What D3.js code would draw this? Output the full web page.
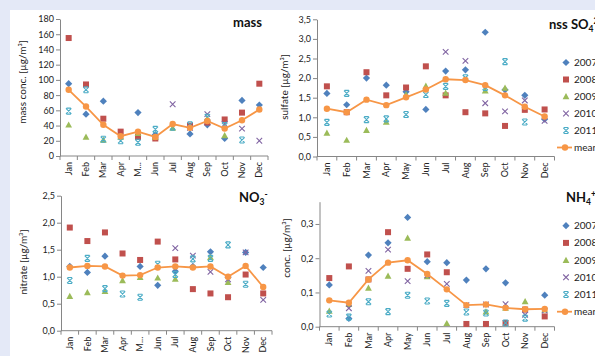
<!DOCTYPE html>
<html>
<head>
<meta charset="utf-8">
<script src="https://cdn.jsdelivr.net/npm/d3@7"></script>
<style>
  html, body { margin: 0; padding: 0; background: #e4e9f7; overflow: hidden; }
  svg { display: block; font-family: Lato, "Open Sans", sans-serif; }
</style>
</head>
<body>
<svg id="chart" width="595" height="356"></svg>
<script>
// categories
const months = ["Jan", "Feb", "Mar", "Apr", "May", "Jun", "Jul", "Aug", "Sep", "Oct", "Nov", "Dec"];
const monthsCut = ["Jan", "Feb", "Mar", "Apr", "M...", "Jun", "Jul", "Aug", "Sep", "Oct", "Nov", "Dec"];
const years = ["2007", "2008", "2009", "2010", "2011"];

// mass conc. [µg/m³]
const mass2007 = [95, 55, 72, null, 57, 28, null, 29, 41, 23, 73, 67];
const mass2008 = [155, 94, 49, 32, 25, 23, null, 40, 44, 48, 57, 95];
const mass2009 = [41, 25, 21, 25, 30, 25, 37, null, 49, 27, null, null];
const mass2010 = [null, null, null, null, null, null, 68, 37, 55, 42, 36, 20];
const mass2011 = [59, 87, 22, 20, 18, 35, 38, 41, 51, 40, 21, null];
const massMean = [87, 65, 41, 26, 32, 25, 42, 37, 46, 36, 47, 61];

// nss sulfate [µg/m³]
const so42007 = [1.61, 1.32, 2.00, 1.82, 1.65, 1.20, 2.18, 2.21, 3.17, 1.70, 1.56, 0.95];
const so42008 = [1.79, 1.13, 2.15, 1.56, 1.76, 2.30, 1.56, 1.13, 1.10, 0.78, 1.19, 1.20];
const so42009 = [0.60, 0.42, 0.67, 0.88, 1.58, 1.80, 1.62, null, 1.68, 1.75, null, null];
const so42010 = [null, null, null, null, null, null, 2.67, 2.44, 1.36, 1.15, 1.43, 0.91];
const so42011 = [0.87, 1.61, 0.94, 0.96, 1.07, 1.58, 1.79, 2.01, 1.76, 2.42, 0.88, null];
const so4Mean = [1.22, 1.13, 1.45, 1.31, 1.51, 1.71, 1.97, 1.95, 1.82, 1.56, 1.27, 1.02];

// nitrate [µg/m³]
const no32007 = [1.19, 1.08, 1.38, null, 1.19, 0.84, 1.10, 1.19, 1.46, 0.99, 1.45, 1.17];
const no32008 = [1.91, 1.66, 1.82, 1.43, 1.31, 1.65, 1.32, 0.77, 0.69, 0.62, 1.04, 0.69];
const no32009 = [0.64, 0.71, 0.73, 0.93, 0.99, 0.98, 0.96, null, 1.36, 0.90, null, null];
const no32010 = [null, null, null, null, null, null, 1.53, 1.39, 1.09, 0.95, 1.45, 0.57];
const no32011 = [0.93, 1.34, 0.78, 0.68, 0.62, 1.23, 1.04, 1.33, 1.34, 1.59, 0.86, null];
const no3Mean = [1.17, 1.20, 1.19, 1.02, 1.03, 1.17, 1.19, 1.17, 1.19, 1.00, 1.20, 0.81];

// ammonium conc. [µg/m³]
const nh42007 = [0.122, 0.024, 0.209, 0.245, 0.319, 0.190, 0.187, 0.136, 0.169, 0.128, null, 0.092];
const nh42008 = [0.142, 0.176, 0.138, 0.276, 0.169, 0.211, 0.159, 0.008, 0.008, 0.011, 0.050, 0.030];
const nh42009 = [0.046, 0.066, 0.113, 0.148, 0.259, 0.147, 0.010, null, 0.044, 0.055, 0.074, 0.050];
const nh42010 = [null, 0.054, 0.163, 0.225, 0.133, 0.150, 0.125, 0.063, 0.065, 0.066, 0.035, 0.047];
const nh42011 = [0.037, 0.028, 0.073, 0.044, 0.092, 0.075, 0.068, 0.043, 0.040, 0.011, 0.025, null];
const nh4Mean = [0.077, 0.070, 0.138, 0.187, 0.194, 0.154, 0.109, 0.063, 0.065, 0.055, 0.051, 0.052];

// tick values
const massTicks = [0, 20, 40, 60, 80, 100, 120, 140, 160, 180];
const so4Ticks = [0, 0.5, 1, 1.5, 2, 2.5, 3, 3.5];
const no3Ticks = [0, 0.5, 1, 1.5, 2, 2.5];
const nh4Ticks = [0, 0.1, 0.2, 0.3];

const yearColors = ["#4f81bd", "#c0504d", "#9bbb59", "#8064a2", "#4bacc6"];
const meanColor = "#f79646";
const axisColor = "#868686";

const svg = d3.select("#chart");
svg.append("rect")
  .attr("x", 10).attr("y", 10)
  .attr("width", 585).attr("height", 346)
  .attr("fill", "#fff");

// marker shapes, one per year
function marker(g, i, color) {
  if (i == 0) {
    g.append("path").attr("d", "M0,-3.6L3.6,0L0,3.6L-3.6,0Z").attr("fill", color);
  } else if (i == 1) {
    g.append("rect").attr("x", -3).attr("y", -3).attr("width", 6).attr("height", 6).attr("fill", color);
  } else if (i == 2) {
    g.append("path").attr("d", "M0,-3.4L3.4,2.8L-3.4,2.8Z").attr("fill", color);
  } else if (i == 3) {
    g.append("path").attr("d", "M-2.8,-2.8L2.8,2.8M-2.8,2.8L2.8,-2.8")
      .attr("stroke", color).attr("stroke-width", 1.1).attr("fill", "none");
  } else {
    g.append("path").attr("d", "M-2.7,-2.7L2.7,2.7M-2.7,2.7L2.7,-2.7M-2.2,-3L2.2,-3M-2.2,3L2.2,3")
      .attr("stroke", color).attr("stroke-width", 1.1).attr("fill", "none");
  }
}

function fmtComma(d) {
  return d3.format(".1f")(d).replace(".", ",");
}

function drawPanel(p) {
  var x = d3.scaleBand().domain(months).range([p.left, p.right]).padding(0);
  var y = d3.scaleLinear().domain([0, p.max]).range([p.bottom, p.top]);
  var g = svg.append("g");

  // y axis
  var yAxis = d3.axisLeft(y).tickValues(p.ticks).tickSize(4).tickSizeOuter(0).tickFormat(p.fmt);
  var ya = g.append("g").attr("transform", "translate(" + p.left + ",0)").call(yAxis);
  ya.select(".domain").attr("stroke", axisColor);
  ya.selectAll(".tick line").attr("stroke", axisColor);
  ya.selectAll(".tick text").attr("font-size", 9).attr("fill", "#222").attr("x", -6)
    .attr("font-family", "Lato, 'Open Sans', sans-serif");

  // x axis: line + ticks at category boundaries
  g.append("line").attr("x1", p.left).attr("x2", p.right)
    .attr("y1", p.bottom).attr("y2", p.bottom).attr("stroke", axisColor);
  var bounds = months.map(m => x(m)).concat([p.right]);
  g.selectAll(".xtick").data(bounds).enter().append("line")
    .attr("x1", d => d).attr("x2", d => d)
    .attr("y1", p.bottom).attr("y2", p.bottom + 4)
    .attr("stroke", axisColor);
  g.selectAll(".xlab").data(months).enter().append("text")
    .attr("transform", (d, i) => "translate(" + (x(d) + x.bandwidth() / 2) + "," + (p.bottom + 6) + ") rotate(-90)")
    .attr("text-anchor", "end").attr("dy", "0.35em")
    .attr("font-size", 9).attr("fill", "#222")
    .text((d, i) => p.labels[i]);

  // y title
  g.append("text")
    .attr("transform", "translate(" + p.ylabX + "," + p.ylabY + ") rotate(-90)")
    .attr("text-anchor", "middle").attr("dy", "0.35em")
    .attr("font-size", 10).attr("fill", "#222")
    .text(p.ylabel);

  // year series
  p.series.forEach(function (vals, i) {
    var pts = vals.map((v, j) => ({ m: months[j], v: v })).filter(d => d.v != null);
    g.selectAll(".s" + i).data(pts).enter().append("g")
      .attr("transform", d => "translate(" + (x(d.m) + x.bandwidth() / 2) + "," + y(d.v) + ")")
      .each(function () { marker(d3.select(this), i, yearColors[i]); });
  });

  // mean line
  var line = d3.line().x((d, j) => x(months[j]) + x.bandwidth() / 2).y(d => y(d));
  g.append("path").datum(p.mean).attr("d", line)
    .attr("fill", "none").attr("stroke", meanColor).attr("stroke-width", 1.8);
  g.selectAll(".mdot").data(p.mean).enter().append("circle")
    .attr("cx", (d, j) => x(months[j]) + x.bandwidth() / 2)
    .attr("cy", d => y(d)).attr("r", 3.2).attr("fill", meanColor);

  // title
  var t = g.append("text").attr("x", p.titleX).attr("y", p.titleY)
    .attr("text-anchor", p.titleAnchor).attr("font-size", 13).attr("font-weight", "bold").attr("fill", "#111");
  t.append("tspan").text(p.title[0]);
  if (p.title[1]) t.append("tspan").attr("font-size", 8.5).attr("dy", 3).text(p.title[1]);
  if (p.title[2]) t.append("tspan").attr("font-size", 8.5).attr("dy", -8.5).text(p.title[2]);

  // legend
  if (p.legendY) {
    var lg = g.append("g");
    years.forEach(function (yr, i) {
      var row = lg.append("g").attr("transform", "translate(566," + (p.legendY + i * p.legendStep) + ")");
      marker(row, i, yearColors[i]);
      row.append("text").attr("x", 8).attr("dy", "0.35em").attr("font-size", 10).attr("fill", "#222").text(yr);
    });
    var mrow = lg.append("g").attr("transform", "translate(566," + (p.legendY + 5 * p.legendStep) + ")");
    mrow.append("line").attr("x1", -9).attr("x2", 6).attr("stroke", meanColor).attr("stroke-width", 1.8);
    mrow.append("circle").attr("cx", -1).attr("r", 3.2).attr("fill", meanColor);
    mrow.append("text").attr("x", 8).attr("dy", "0.35em").attr("font-size", 10).attr("fill", "#222").text("mean");
  }
}

drawPanel({
  left: 60, right: 268, top: 19, bottom: 156, max: 180, ticks: massTicks, fmt: d3.format("d"),
  labels: monthsCut, series: [mass2007, mass2008, mass2009, mass2010, mass2011], mean: massMean,
  ylabel: "mass conc. [µg/m³]", ylabX: 22, ylabY: 82,
  title: ["mass"], titleX: 262, titleY: 27, titleAnchor: "end"
});

drawPanel({
  left: 317, right: 554.5, top: 19.3, bottom: 156.5, max: 3.5, ticks: so4Ticks, fmt: fmtComma,
  labels: months, series: [so42007, so42008, so42009, so42010, so42011], mean: so4Mean,
  ylabel: "sulfate  [µg/m³]", ylabX: 284, ylabY: 87,
  title: ["nss SO", "4", "2-"], titleX: 549, titleY: 29, titleAnchor: "start",
  legendY: 62.5, legendStep: 17
});

drawPanel({
  left: 61, right: 272, top: 195.7, bottom: 330.7, max: 2.5, ticks: no3Ticks, fmt: fmtComma,
  labels: monthsCut, series: [no32007, no32008, no32009, no32010, no32011], mean: no3Mean,
  ylabel: "nitrate [µg/m³]", ylabX: 23.5, ylabY: 262,
  title: ["NO", "3", "-"], titleX: 239, titleY: 202, titleAnchor: "start"
});

drawPanel({
  left: 319.5, right: 554.5, top: 201.7, bottom: 326.7, max: 0.365, ticks: nh4Ticks, fmt: fmtComma,
  labels: months, series: [nh42007, nh42008, nh42009, nh42010, nh42011], mean: nh4Mean,
  ylabel: "conc. [µg/m³]", ylabX: 286, ylabY: 248,
  title: ["NH", "4", "+"], titleX: 566, titleY: 202, titleAnchor: "start",
  legendY: 225.7, legendStep: 17.2
});
</script>
</body>
</html>
